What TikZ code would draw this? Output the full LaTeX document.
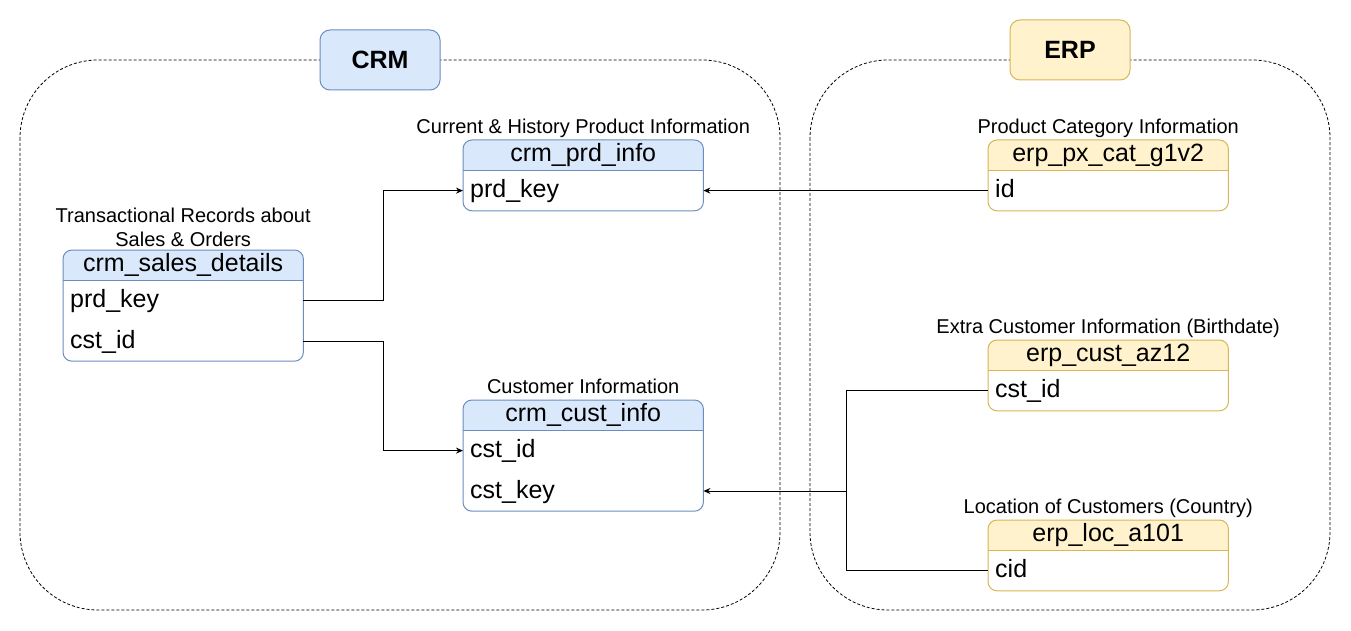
\documentclass[tikz,border=0pt]{standalone}
\usepackage{fontspec}
\setmainfont{Liberation Sans}
\usetikzlibrary{arrows.meta,positioning,backgrounds}
\definecolor{crmbg}{HTML}{DAE8FC}
\definecolor{crmbd}{HTML}{6C8EBF}
\definecolor{erpbg}{HTML}{FFF2CC}
\definecolor{erpbd}{HTML}{D6B656}

\begin{document}
\begin{tikzpicture}[x=1pt,y=-1pt,>={Stealth[length=7pt,width=6pt]},
  tblhead/.style={minimum width=240pt,minimum height=30pt,inner sep=0pt,font=\fontsize{25}{30}\selectfont},
  tblrow/.style={text width=226pt,minimum height=40pt,inner xsep=7pt,inner ysep=0pt,text depth=4pt,align=left,font=\fontsize{25}{30}\selectfont},
  note/.style={inner sep=0pt,text depth=4.5pt,align=center,font=\fontsize{20}{24}\selectfont},
  group/.style={dash pattern=on 3pt off 2pt,line width=0.8pt,rounded corners=78pt},
  grouplabel/.style={rounded corners=10pt,minimum width=120pt,minimum height=60pt,line width=1pt,font=\fontsize{25}{30}\selectfont\bfseries},
  link/.style={line width=1pt}]
\useasboundingbox (0,0) rectangle (1351,631);
% the two source systems
\draw[group] (20,60) rectangle (780,610);
\draw[group] (810,60) rectangle (1330,610);
\node[grouplabel,draw=crmbd,fill=crmbg] (crm) at (380,60) {CRM};
\node[grouplabel,draw=erpbd,fill=erpbg] (erp) at (1070,50) {ERP};

% CRM tables
\node[tblhead,anchor=north west] (prdinfo) at (463,140) {crm\_prd\_info};
\node[tblrow,below=0pt of prdinfo] (prdinfo-key) {prd\_key};
\node[note,above=2pt of prdinfo] (prdinfo-note) {Current \& History Product Information};

\node[tblhead,anchor=north west] (sales) at (63,250) {crm\_sales\_details};
\node[tblrow,below=0pt of sales] (sales-prd) {prd\_key};
\node[tblrow,below=0pt of sales-prd] (sales-cst) {cst\_id};
\node[note,above=-1pt of sales] (sales-note) {Transactional Records about\\Sales \& Orders};

\node[tblhead,anchor=north west] (custinfo) at (463,400) {crm\_cust\_info};
\node[tblrow,below=0pt of custinfo] (custinfo-id) {cst\_id};
\node[tblrow,below=0pt of custinfo-id] (custinfo-key) {cst\_key};
\node[note,above=2pt of custinfo] (custinfo-note) {Customer Information};

% ERP tables
\node[tblhead,anchor=north west] (pxcat) at (988,140) {erp\_px\_cat\_g1v2};
\node[tblrow,below=0pt of pxcat] (pxcat-id) {id};
\node[note,above=2pt of pxcat] (pxcat-note) {Product Category Information};

\node[tblhead,anchor=north west] (custaz) at (988,340) {erp\_cust\_az12};
\node[tblrow,below=0pt of custaz] (custaz-id) {cst\_id};
\node[note,above=2pt of custaz] (custaz-note) {Extra Customer Information (Birthdate)};

\node[tblhead,anchor=north west] (loc) at (988,520) {erp\_loc\_a101};
\node[tblrow,below=0pt of loc] (loc-cid) {cid};
\node[note,above=2pt of loc] (loc-note) {Location of Customers (Country)};

% header fill of each table
\begin{scope}[on background layer]
\foreach \t/\last/\bgc in {prdinfo/prdinfo-key/crmbg,sales/sales-cst/crmbg,custinfo/custinfo-key/crmbg,
  pxcat/pxcat-id/erpbg,custaz/custaz-id/erpbg,loc/loc-cid/erpbg}{
  \begin{scope}
    \clip (\t.north west) rectangle (\t.south east);
    \fill[fill=\bgc,rounded corners=9pt] (\t.north west) rectangle (\last.south east);
  \end{scope}
}
\end{scope}
% frame of each table
\foreach \t/\last/\bdc in {prdinfo/prdinfo-key/crmbd,sales/sales-cst/crmbd,custinfo/custinfo-key/crmbd,
  pxcat/pxcat-id/erpbd,custaz/custaz-id/erpbd,loc/loc-cid/erpbd}{
  \draw[draw=\bdc,line width=1pt,rounded corners=9pt] (\t.north west) rectangle (\last.south east);
  \draw[draw=\bdc,line width=1pt] (\t.south west) -- (\t.south east);
}

% links
\draw[link,->] (sales-prd.east) -- ++(80,0) |- (prdinfo-key.west);
\draw[link,->] (sales-cst.east) -- ++(80,0) |- (custinfo-id.west);
\draw[link,->] (pxcat-id.west) -- (prdinfo-key.east);
\draw[link] (custaz-id.west) -- ++(-142,0) coordinate (erpjoin) |- (loc-cid.west);
\draw[link,->] (erpjoin |- custinfo-key.east) -- (custinfo-key.east);
\end{tikzpicture}
\end{document}
